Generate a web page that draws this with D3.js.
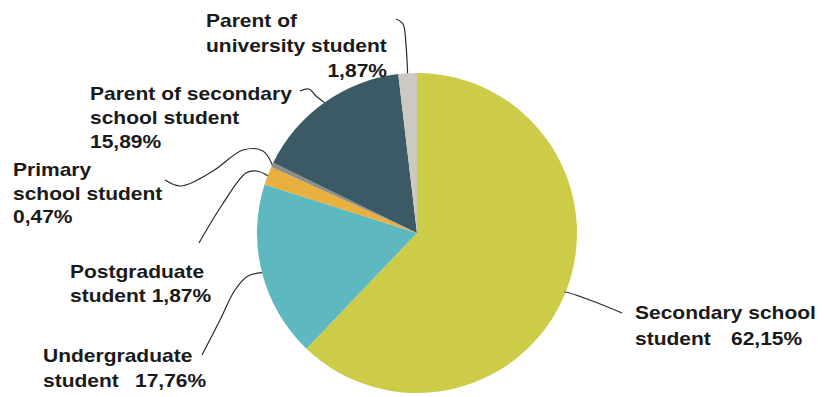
<!DOCTYPE html>
<html>
<head>
<meta charset="utf-8">
<script src="https://cdn.jsdelivr.net/npm/d3@7/dist/d3.min.js"></script>
<style>
  html, body { margin: 0; padding: 0; background: #ffffff; }
  svg { display: block; }
  .lbl { font-family: "Liberation Sans", Arial, sans-serif; font-weight: bold; font-size: 18.6px; fill: #1a1a1a; }
</style>
</head>
<body>
<script>
// Respondent groups, clockwise from 12 o'clock
const categories = [
  "Secondary school student",
  "Undergraduate student",
  "Postgraduate student",
  "Primary school student",
  "Parent of secondary school student",
  "Parent of university student"
];
const shares = [62.15, 17.76, 1.87, 0.47, 15.89, 1.87];
const valueLabels = ["62,15%", "17,76%", "1,87%", "0,47%", "15,89%", "1,87%"];
const colors = ["#cdcc49", "#5db8bf", "#e9b03f", "#8b8f87", "#3c5a65", "#cbc9c1"];

const W = 824, H = 397;
const cx = 417, cy = 233, R = 160;
const stretch = 1.13; // wide label face

const svg = d3.select("body").append("svg")
  .attr("width", W).attr("height", H);

const pie = d3.pie().sort(null).value(d => d.v);
const arcs = pie(categories.map((c, i) => ({ c, v: shares[i], i })));
const arc = d3.arc().innerRadius(0).outerRadius(R);

const g = svg.append("g").attr("transform", `translate(${cx},${cy})`);
g.selectAll("path.slice")
  .data(arcs)
  .join("path")
  .attr("class", "slice")
  .attr("d", arc)
  .attr("fill", d => colors[d.data.i]);

// Label text blocks and leader waypoints (page coordinates);
// each leader finishes on the rim at its slice's mid angle.
const layout = [
  { lines: [{ t: "Secondary school", x: 635, y: 319 },
            { t: "student", x: 635, y: 345 },
            { t: valueLabels[0], x: 731, y: 345 }],
    path: [[622, 313], [595, 302], [565, 292]] },
  { lines: [{ t: "Undergraduate", x: 43, y: 362 },
            { t: "student", x: 43, y: 387 },
            { t: valueLabels[1], x: 135, y: 387 }],
    path: [[202, 355], [220, 320], [235, 290], [248, 276]] },
  { lines: [{ t: "Postgraduate", x: 70, y: 278 },
            { t: "student " + valueLabels[2], x: 70, y: 302 }],
    path: [[199, 243], [222, 205], [246, 173], [257, 171]] },
  { lines: [{ t: "Primary", x: 13, y: 176 },
            { t: "school student", x: 13, y: 200 },
            { t: valueLabels[3], x: 13, y: 223 }],
    path: [[165, 180], [181, 186], [213, 171], [243, 150], [263, 151]] },
  { lines: [{ t: "Parent of secondary", x: 90, y: 100 },
            { t: "school student", x: 90, y: 124 },
            { t: valueLabels[4], x: 90, y: 148 }],
    path: [[300, 91], [309, 89], [316, 96]] },
  { lines: [{ t: "Parent of", x: 206, y: 27 },
            { t: "university student", x: 206, y: 52 },
            { t: valueLabels[5], x: 387, y: 77, anchor: "end" }],
    path: [[396, 19], [403, 24], [406, 45]] }
];

const leader = d3.line().curve(d3.curveCatmullRom.alpha(0.5));

arcs.forEach((a, k) => {
  const L = layout[k];
  const mid = (a.startAngle + a.endAngle) / 2;
  const end = [cx + R * Math.sin(mid), cy - R * Math.cos(mid)];
  svg.append("path")
    .attr("d", leader(L.path.concat([end])))
    .attr("fill", "none")
    .attr("stroke", "#2a2a2a")
    .attr("stroke-width", 1.2);
  L.lines.forEach(l => {
    svg.append("text")
      .attr("class", "lbl")
      .attr("transform", `translate(${l.x},${l.y}) scale(${stretch},1)`)
      .attr("text-anchor", l.anchor || "start")
      .text(l.t);
  });
});
</script>
</body>
</html>
